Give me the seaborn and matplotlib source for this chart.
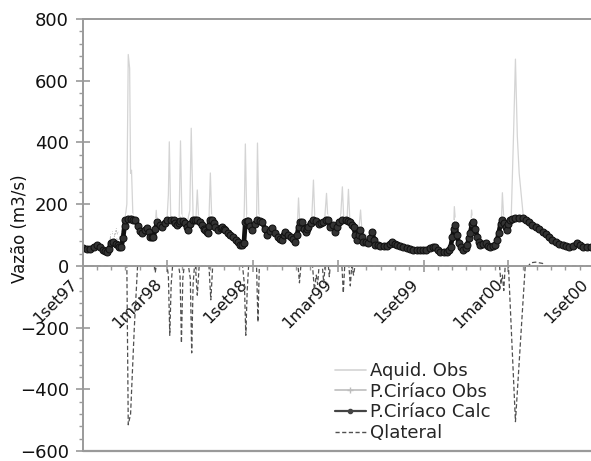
import numpy as np
import pandas as pd
import matplotlib
matplotlib.use("Agg")
import matplotlib.pyplot as plt
import matplotlib.dates as mdates
from matplotlib.ticker import MultipleLocator
from matplotlib.lines import Line2D
from matplotlib.transforms import ScaledTranslation
import seaborn as sns

# ---------------- data (day offsets from 1 Sep 1997, values in m3/s) ----------------
START = "1997-09-01"

calc_day = [0, 8, 16, 24, 31, 37, 42, 47, 52, 56, 59, 65, 70, 74, 78, 82, 86, 89, 91, 96,
            102, 108, 112, 118, 123, 127, 132, 138, 141, 144, 148, 151, 155, 159, 164, 170, 175, 181, 188, 194,
            198, 202, 205, 208, 214, 218, 222, 226, 230, 235, 240, 245, 250, 256, 260, 262, 265, 267, 270, 273,
            277, 281, 284, 290, 295, 299, 302, 305, 310, 316, 322, 327, 332, 337, 341, 345, 348, 351, 354, 358,
            363, 368, 374, 379, 384, 390, 395, 400, 406, 411, 417, 422, 427, 431, 434, 440, 445, 450, 455, 459,
            462, 466, 470, 474, 477, 480, 483, 488, 494, 500, 505, 510, 515, 520, 526, 530, 535, 541, 545, 548,
            555, 563, 568, 573, 577, 580, 584, 588, 591, 594, 598, 601, 606, 611, 616, 620, 624, 627, 632, 637,
            645, 652, 658, 663, 668, 674, 680, 686, 694, 701, 708, 716, 722, 729, 736, 744, 750, 755, 760, 766,
            774, 781, 785, 788, 792, 795, 798, 802, 805, 810, 815, 820, 824, 827, 830, 834, 837, 841, 845, 849,
            852, 858, 863, 868, 873, 878, 884, 888, 891, 895, 899, 903, 906, 909, 912, 916, 920, 927, 935, 944,
            950, 955, 962, 970, 978, 985, 992, 998, 1006, 1013, 1020, 1028, 1035, 1041, 1050, 1060, 1066, 1071, 1080, 1090]
calc_val = [58, 55, 55, 62, 68, 60, 52, 48, 45, 55, 74, 77, 70, 68, 62, 60, 90, 130, 148, 151,
            151, 150, 148, 130, 112, 106, 115, 123, 110, 94, 92, 93, 120, 142, 132, 126, 140, 149, 150, 149,
            140, 132, 140, 146, 146, 140, 125, 116, 135, 149, 150, 149, 142, 132, 120, 116, 110, 107, 130, 149,
            149, 140, 126, 116, 124, 126, 120, 116, 108, 100, 92, 84, 76, 68, 66, 75, 142, 146, 146, 130,
            116, 135, 149, 146, 142, 120, 100, 112, 123, 108, 94, 88, 84, 100, 110, 100, 94, 86, 77, 100,
            126, 142, 142, 120, 110, 118, 126, 140, 149, 144, 136, 140, 142, 149, 149, 126, 132, 110, 125, 142,
            149, 149, 145, 142, 134, 126, 100, 84, 100, 116, 95, 77, 76, 74, 90, 110, 85, 68, 66, 64,
            64, 64, 70, 77, 72, 68, 64, 61, 58, 55, 53, 52, 51, 50, 53, 57, 60, 61, 52, 45,
            45, 45, 50, 61, 94, 120, 132, 100, 74, 60, 52, 58, 68, 90, 107, 135, 142, 120, 94, 78,
            68, 72, 74, 65, 61, 64, 68, 85, 107, 135, 149, 138, 126, 116, 135, 149, 153, 155, 155, 155,
            150, 142, 134, 126, 118, 110, 102, 94, 85, 77, 72, 68, 64, 61, 64, 74, 66, 61, 62, 60]

pobs_day = [0, 10, 20, 30, 40, 50, 56, 60, 64, 68, 72, 76, 80, 84, 88, 92, 98, 104, 110, 116,
            122, 128, 134, 140, 146, 152, 156, 160, 166, 172, 178, 185, 192, 198, 204, 210, 216, 222, 228, 232,
            238, 246, 252, 258, 264, 270, 275, 282, 288, 296, 304, 312, 320, 328, 336, 342, 347, 352, 358, 364,
            370, 376, 382, 390, 398, 406, 414, 422, 430, 438, 446, 454, 460, 466, 472, 478, 484, 490, 498, 506,
            514, 522, 528, 534, 540, 546, 554, 562, 570, 576, 582, 588, 594, 600, 608, 616, 622, 628, 640, 655,
            665, 680, 700, 720, 740, 756, 766, 785, 790, 794, 798, 804, 812, 824, 830, 834, 840, 846, 855, 870,
            884, 890, 896, 900, 906, 912, 920, 935, 950, 965, 980, 1000, 1015, 1030, 1045, 1060, 1075, 1090]
pobs_val = [60, 57, 58, 70, 55, 50, 60, 100, 110, 95, 120, 100, 85, 110, 150, 160, 160, 162, 155, 140,
            120, 112, 125, 120, 100, 110, 140, 155, 140, 135, 155, 160, 158, 150, 145, 158, 150, 130, 125, 150,
            158, 155, 140, 125, 115, 140, 158, 145, 120, 130, 120, 105, 95, 85, 72, 75, 150, 158, 135, 125,
            150, 158, 150, 125, 120, 130, 100, 95, 110, 105, 100, 90, 125, 150, 140, 120, 135, 150, 155, 140,
            150, 158, 135, 140, 118, 150, 158, 155, 150, 140, 110, 95, 125, 85, 80, 100, 95, 72, 68, 68,
            80, 66, 58, 54, 60, 65, 48, 50, 70, 140, 150, 95, 58, 72, 120, 155, 140, 95, 72, 65,
            72, 120, 150, 155, 130, 150, 160, 162, 155, 135, 120, 98, 80, 70, 65, 78, 64, 62]

aquid_day = [0, 20, 40, 55, 60, 70, 80, 86, 90, 94, 97, 100, 102, 104, 107, 115, 125, 140, 150, 155,
             157, 159, 170, 180, 183, 185, 188, 200, 206, 209, 212, 222, 229, 232, 236, 242, 245, 248, 260, 270,
             273, 276, 290, 310, 330, 344, 346, 348, 351, 365, 372, 374, 377, 395, 420, 440, 455, 460, 462, 465,
             480, 490, 494, 497, 510, 518, 522, 525, 540, 552, 556, 559, 566, 569, 572, 585, 592, 595, 598, 620,
             650, 700, 740, 770, 790, 794, 796, 799, 810, 828, 831, 833, 836, 850, 880, 892, 897, 899, 902, 912,
             918, 923, 927, 931, 935, 944, 960, 990, 1030, 1060, 1090]
aquid_val = [55, 55, 52, 50, 80, 90, 80, 110, 150, 200, 685, 640, 300, 310, 160, 145, 120, 110, 100, 130,
             180, 130, 140, 150, 230, 402, 160, 145, 150, 405, 160, 130, 180, 446, 160, 150, 246, 150, 130, 150,
             301, 150, 120, 105, 85, 80, 200, 395, 160, 140, 150, 398, 160, 110, 95, 100, 90, 150, 220, 130,
             125, 140, 278, 150, 140, 150, 235, 150, 130, 150, 256, 150, 150, 248, 150, 110, 130, 181, 110, 85,
             68, 58, 58, 48, 60, 100, 192, 130, 62, 80, 120, 181, 130, 75, 70, 110, 150, 237, 150, 145,
             160, 430, 670, 420, 300, 158, 140, 105, 70, 72, 60]

qlat_day = [0, 94, 97, 102, 110, 117, 153, 155, 157, 180, 183, 186, 189, 192, 205, 208, 211, 214, 217, 226,
            230, 233, 236, 239, 241, 245, 249, 270, 274, 278, 342, 346, 349, 352, 355, 372, 375, 378, 461, 464,
            467, 492, 496, 500, 503, 506, 513, 516, 519, 526, 528, 530, 555, 558, 561, 570, 573, 576, 580, 583,
            893, 896, 899, 902, 905, 912, 927, 948, 955, 960, 970, 985, 990, 1099]
qlat_val = [0, 0, -515, -480, -200, 0, 0, -20, 0, 0, -30, -225, -60, 0, 0, -30, -250, -40, 0, 0,
            -40, -282, -60, 0, 0, -95, 0, 0, -110, 0, 0, -60, -225, -80, 0, 0, -182, 0, 0, -55,
            0, 0, -78, -30, -60, 0, 0, -55, 0, 0, -35, 0, 0, -88, 0, 0, -65, 0, -30, 0,
            0, -60, -30, -80, 0, 0, -505, 0, 0, 10, 12, 8, 0, 0]

tick_days = [0, 181, 365, 546, 730, 912, 1096]
tick_labels = ["1set97", "1mar98", "1set98", "1mar99", "1set99", "1mar00", "1set00"]
series_names = ["Aquid. Obs", "P.Ciríaco Obs", "P.Ciríaco Calc", "Qlateral"]

# ---------------- build frames ----------------
t0 = pd.Timestamp(START)
def to_dates(days):
    return t0 + pd.to_timedelta(np.asarray(days), unit="D")

df_aq = pd.DataFrame({"date": to_dates(aquid_day), "q": aquid_val})
df_po = pd.DataFrame({"date": to_dates(pobs_day), "q": pobs_val})
df_pc = pd.DataFrame({"date": to_dates(calc_day), "q": calc_val})
df_ql = pd.DataFrame({"date": to_dates(qlat_day), "q": qlat_val})

# ---------------- style ----------------
sns.set_style("ticks")
plt.rcParams["font.family"] = ["DejaVu Sans"]

SPINE = "#9a9a9a"
C_AQ = "#d4d4d4"
C_PO = "#bdbdbd"
C_PC = "#111111"
C_QL = "#505050"

fig = plt.figure(figsize=(5.91, 4.61), dpi=100)
W, H = 591, 461
ax_w = 1099 * 0.4665
ax = fig.add_axes([83 / W, 10 / H, ax_w / W, 432 / H])

sns.lineplot(data=df_aq, x="date", y="q", ax=ax, color=C_AQ, lw=0.9, estimator=None, sort=False)
sns.lineplot(data=df_po, x="date", y="q", ax=ax, color=C_PO, lw=1.0, estimator=None, sort=False,
             marker="+", markersize=4, markeredgewidth=0.8)
sns.lineplot(data=df_pc, x="date", y="q", ax=ax, color=C_PC, lw=3.4, estimator=None, sort=False,
             marker="o", markersize=5.0, markeredgecolor=C_PC, markerfacecolor="#333333")
sns.lineplot(data=df_ql, x="date", y="q", ax=ax, color=C_QL, lw=0.9, estimator=None, sort=False,
             linestyle=(0, (3.5, 2.0)))

ax.set_xlim(t0, t0 + pd.Timedelta(days=1099))
ax.set_ylim(-600, 800)

# spines
for s in ["left", "top", "bottom"]:
    ax.spines[s].set_color(SPINE)
    ax.spines[s].set_linewidth(1.4)
ax.spines["right"].set_visible(False)
ax.spines["bottom"].set_position(("data", 0))
ax.axhline(-600, color=SPINE, lw=1.6, clip_on=False, zorder=5)

# y axis
ax.set_yticks([-600, -400, -200, 0, 200, 400, 600, 800])
ax.yaxis.set_minor_locator(MultipleLocator(40))
ax.tick_params(axis="y", which="major", left=True, direction="inout", length=9.5, width=1.2,
               color=SPINE, labelsize=13, pad=5.5, labelcolor="#111111")
ax.tick_params(axis="y", which="minor", left=True, direction="out", length=3, width=1.0, color=SPINE)
ax.set_ylabel("Vazão (m3/s)", fontsize=12, color="#111111")
ax.yaxis.set_label_coords((29 - 83) / ax_w, (451 - 229) / 432)

# x axis
ax.set_xticks(to_dates(tick_days))
ax.set_xticklabels(tick_labels)
ax.xaxis.set_minor_locator(mdates.MonthLocator())
ax.tick_params(axis="x", which="major", bottom=True, direction="inout", length=8, width=1.2,
               color=SPINE, labelsize=11.5, pad=7.5, labelcolor="#111111")
ax.tick_params(axis="x", which="minor", bottom=True, direction="out", length=3, width=1.0, color=SPINE)
offset = ScaledTranslation(-8 / 100, 0, fig.dpi_scale_trans)
for lab in ax.get_xticklabels():
    lab.set_rotation(45)
    lab.set_ha("right")
    lab.set_va("center")
    lab.set_rotation_mode("anchor")
    lab.set_transform(lab.get_transform() + offset)
ax.set_xlabel("")

# legend
handles = [
    Line2D([], [], color=C_AQ, lw=1.2),
    Line2D([], [], color=C_PO, lw=1.2, marker="+", markersize=4),
    Line2D([], [], color="#444444", lw=1.6, marker="o", markersize=3),
    Line2D([], [], color=C_QL, lw=1.0, linestyle=(0, (3.0, 1.8))),
]
ax.legend(handles, series_names, loc="upper left",
          bbox_to_anchor=(335 / W, (H - 362) / H), bbox_transform=fig.transFigure,
          frameon=False, fontsize=13, handlelength=1.7, handletextpad=0.25,
          labelspacing=0.15, borderpad=0, borderaxespad=0)

fig.savefig("out.png", dpi=100)
